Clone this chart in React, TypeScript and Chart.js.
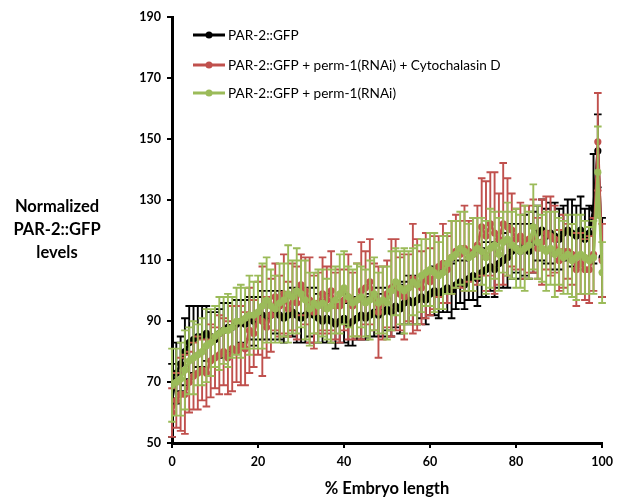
import React, { useEffect, useRef } from "react";
import { Chart, registerables } from "chart.js";

Chart.register(...registerables);

// % embryo length positions
const positions = [
  0, 1, 2, 3, 4, 5, 6, 7, 8, 9, 10, 11, 12, 13, 14, 15, 16, 17, 18, 19, 20,
  21, 22, 23, 24, 25, 26, 27, 28, 29, 30, 31, 32, 33, 34, 35, 36, 37, 38, 39, 40,
  41, 42, 43, 44, 45, 46, 47, 48, 49, 50, 51, 52, 53, 54, 55, 56, 57, 58, 59, 60,
  61, 62, 63, 64, 65, 66, 67, 68, 69, 70, 71, 72, 73, 74, 75, 76, 77, 78, 79, 80,
  81, 82, 83, 84, 85, 86, 87, 88, 89, 90, 91, 92, 93, 94, 95, 96, 97, 98, 99, 100,
];

const seriesNames = [
  "PAR-2::GFP",
  "PAR-2::GFP + perm-1(RNAi) + Cytochalasin D",
  "PAR-2::GFP + perm-1(RNAi)",
];

const blackValues = [
  64, 73, 76, 80, 83, 84, 85, 85, 86, 85, 84, 86, 87, 88, 88, 89, 90, 89, 91, 90, 91,
  92, 91, 92, 93, 92, 91, 92, 93, 92, 91, 92, 93, 92, 91, 90, 91, 90, 89, 90, 91,
  89, 90, 91, 92, 91, 92, 93, 92, 93, 94, 93, 95, 94, 96, 97, 96, 97, 98, 97, 99,
  100, 99, 100, 101, 100, 102, 103, 102, 104, 105, 104, 106, 107, 108, 107, 109, 110, 111, 113, 114,
  113, 115, 113, 116, 119, 120, 118, 119, 118, 117, 119, 120, 119, 118, 120, 117, 119, 127, 146, 111,
];
const blackErrors = [
  12, 10, 9, 11, 12, 11, 10, 10, 9, 8, 9, 8, 9, 8, 7, 8, 7, 8, 7, 8, 7,
  8, 7, 8, 7, 8, 8, 7, 8, 9, 8, 9, 8, 9, 8, 7, 8, 7, 8, 7, 8,
  7, 8, 7, 8, 7, 7, 8, 7, 8, 7, 8, 7, 8, 7, 8, 7, 8, 7, 8, 7,
  8, 8, 7, 8, 9, 8, 7, 8, 7, 8, 9, 8, 9, 8, 9, 8, 9, 10, 9, 8,
  9, 10, 9, 10, 9, 10, 9, 10, 11, 10, 9, 10, 11, 10, 11, 10, 9, 18, 12, 13,
];

const redValues = [
  60, 64, 66, 66, 70, 72, 73, 74, 73, 77, 78, 79, 80, 78, 81, 80, 82, 81, 87, 86, 91,
  90, 88, 92, 98, 95, 99, 94, 98, 96, 102, 100, 97, 93, 96, 99, 97, 100, 95, 95, 97,
  98, 95, 97, 100, 101, 103, 98, 93, 96, 99, 101, 102, 99, 98, 101, 104, 102, 101, 105, 103,
  106, 108, 109, 107, 111, 113, 112, 114, 113, 112, 115, 121, 118, 122, 119, 117, 122, 121, 120, 117,
  118, 116, 117, 118, 114, 116, 119, 118, 117, 110, 113, 113, 112, 107, 109, 107, 107, 112, 149, 110,
];
const redErrors = [
  8, 9, 12, 13, 10, 11, 12, 10, 11, 12, 10, 13, 11, 12, 14, 10, 13, 12, 14, 11, 12,
  18, 10, 12, 11, 10, 13, 9, 11, 12, 10, 11, 14, 12, 10, 12, 11, 13, 11, 12, 10,
  14, 11, 12, 16, 12, 14, 11, 15, 12, 11, 16, 15, 12, 14, 11, 18, 15, 12, 14, 11,
  12, 10, 13, 11, 12, 12, 11, 14, 10, 12, 13, 16, 18, 17, 20, 15, 20, 16, 12, 10,
  11, 12, 11, 12, 10, 14, 12, 13, 11, 10, 12, 9, 10, 12, 10, 10, 11, 12, 16, 12,
];

const greenValues = [
  69, 70, 71, 74, 77, 78, 79, 80, 82, 83, 85, 86, 87, 87, 88, 90, 90, 91, 92, 92, 93,
  95, 97, 95, 94, 96, 97, 99, 98, 100, 99, 97, 94, 96, 95, 96, 94, 95, 97, 99, 101,
  98, 96, 97, 98, 96, 97, 99, 96, 97, 96, 100, 103, 101, 100, 101, 103, 102, 105, 106, 107,
  106, 105, 106, 109, 111, 112, 114, 113, 111, 112, 114, 113, 111, 114, 115, 112, 116, 117, 115, 114,
  113, 114, 115, 121, 116, 114, 113, 114, 112, 113, 111, 112, 110, 111, 112, 111, 110, 111, 139, 106,
];
const greenErrors = [
  12, 11, 12, 13, 11, 12, 10, 11, 12, 11, 10, 12, 11, 12, 10, 11, 12, 10, 13, 11, 12,
  14, 14, 12, 11, 13, 12, 16, 12, 14, 11, 13, 12, 10, 12, 11, 10, 12, 11, 13, 12,
  10, 11, 12, 10, 11, 13, 12, 10, 11, 12, 13, 11, 12, 14, 12, 11, 13, 12, 11, 12,
  13, 11, 12, 10, 12, 11, 12, 13, 11, 12, 10, 11, 12, 13, 11, 12, 10, 12, 11, 13,
  12, 14, 11, 14, 12, 11, 13, 12, 14, 11, 12, 13, 12, 14, 13, 12, 11, 12, 15, 10,
];

const xTicks = [0, 20, 40, 60, 80, 100];
const yTicks = [50, 70, 90, 110, 130, 150, 170, 190];

const seriesColors = ["#000000", "#C0504D", "#9BBB59"];
const FONT = "Lato, 'Open Sans', sans-serif";

const toPoints = (vals: number[]) => vals.map((v, i) => ({ x: positions[i], y: v }));

const errorBarPlugin = {
  id: "errorBars",
  beforeDatasetDraw(chart: any, args: any) {
    const ds: any = chart.data.datasets[args.index];
    const errs: number[] = ds.errors;
    if (!errs) return;
    const xs = chart.scales.x;
    const ys = chart.scales.y;
    const ctx = chart.ctx;
    ctx.save();
    ctx.strokeStyle = ds.borderColor;
    ctx.lineWidth = 1.9;
    ctx.beginPath();
    ds.data.forEach((p: any, i: number) => {
      const px = xs.getPixelForValue(p.x);
      const top = ys.getPixelForValue(p.y + errs[i]);
      const bot = ys.getPixelForValue(p.y - errs[i]);
      ctx.moveTo(px, top);
      ctx.lineTo(px, bot);
      ctx.moveTo(px - 3.8, top);
      ctx.lineTo(px + 3.8, top);
      ctx.moveTo(px - 3.8, bot);
      ctx.lineTo(px + 3.8, bot);
    });
    ctx.stroke();
    ctx.restore();
  },
};

const decorPlugin = {
  id: "decor",
  afterDraw(chart: any) {
    const ctx = chart.ctx;
    ctx.save();
    // legend
    const rows = [35, 65, 93];
    seriesNames.forEach((name, i) => {
      const y = rows[i];
      ctx.strokeStyle = seriesColors[i];
      ctx.lineWidth = 3;
      ctx.beginPath();
      ctx.moveTo(193, y);
      ctx.lineTo(225, y);
      ctx.stroke();
      ctx.fillStyle = seriesColors[i];
      ctx.beginPath();
      ctx.arc(209, y, 3.5, 0, Math.PI * 2);
      ctx.fill();
      ctx.fillStyle = "#000";
      ctx.font = `13.6px ${FONT}`;
      ctx.textAlign = "left";
      ctx.textBaseline = "middle";
      ctx.fillText(name, 228, y + 1);
    });
    // y axis title
    ctx.fillStyle = "#000";
    ctx.font = `bold 16.5px ${FONT}`;
    ctx.textAlign = "center";
    ctx.textBaseline = "middle";
    ["Normalized", "PAR-2::GFP", "levels"].forEach((line, i) => {
      ctx.fillText(line, 57, 207 + i * 23);
    });
    ctx.restore();
  },
};

export default function App() {
  const ref = useRef<HTMLCanvasElement>(null);
  useEffect(() => {
    if (!ref.current) return;
    const mk = (i: number, vals: number[], errs: number[], order: number) => ({
      label: seriesNames[i],
      data: toPoints(vals),
      errors: errs,
      borderColor: seriesColors[i],
      backgroundColor: seriesColors[i],
      borderWidth: 2.8,
      pointRadius: 3.6,
      pointBorderWidth: 0,
      pointBackgroundColor: seriesColors[i],
      tension: 0,
      order,
    });
    const chart = new Chart(ref.current, {
      type: "line",
      data: {
        datasets: [
          mk(0, blackValues, blackErrors, 3),
          mk(1, redValues, redErrors, 2),
          mk(2, greenValues, greenErrors, 1),
        ] as any,
      },
      options: {
        animation: false,
        responsive: false,
        events: [],
        layout: { padding: { left: 0, right: 15, top: 17, bottom: 0 } },
        plugins: { legend: { display: false }, tooltip: { enabled: false } },
        scales: {
          x: {
            type: "linear",
            min: 0,
            max: 100,
            afterFit: (s: any) => {
              s.height = 56;
            },
            afterBuildTicks: (s: any) => {
              s.ticks = xTicks.map((v) => ({ value: v }));
            },
            border: { color: "#000", width: 3 },
            grid: {
              drawOnChartArea: false,
              drawTicks: true,
              tickLength: 5,
              color: "#000",
              lineWidth: 2,
            },
            ticks: {
              color: "#000",
              padding: 6,
              font: { family: FONT, size: 12.5, weight: "bold" },
            },
            title: {
              display: true,
              text: "% Embryo length",
              color: "#000",
              padding: { top: 4, bottom: 0 },
              font: { family: FONT, size: 16.5, weight: "bold" },
            },
          },
          y: {
            type: "linear",
            min: 50,
            max: 190,
            afterFit: (s: any) => {
              s.width = 172;
            },
            afterBuildTicks: (s: any) => {
              s.ticks = yTicks.map((v) => ({ value: v }));
            },
            border: { color: "#000", width: 3 },
            grid: {
              drawOnChartArea: false,
              drawTicks: true,
              tickLength: 5,
              color: "#000",
              lineWidth: 2,
            },
            ticks: {
              color: "#000",
              padding: 6,
              font: { family: FONT, size: 12.5, weight: "bold" },
            },
          },
        },
      } as any,
      plugins: [errorBarPlugin, decorPlugin],
    });
    return () => chart.destroy();
  }, []);
  return (
    <div style={{ position: "fixed", left: 0, top: 0, width: 619, height: 499, background: "#fff" }}>
      <canvas ref={ref} width={619} height={499} style={{ width: 619, height: 499 }} />
    </div>
  );
}
